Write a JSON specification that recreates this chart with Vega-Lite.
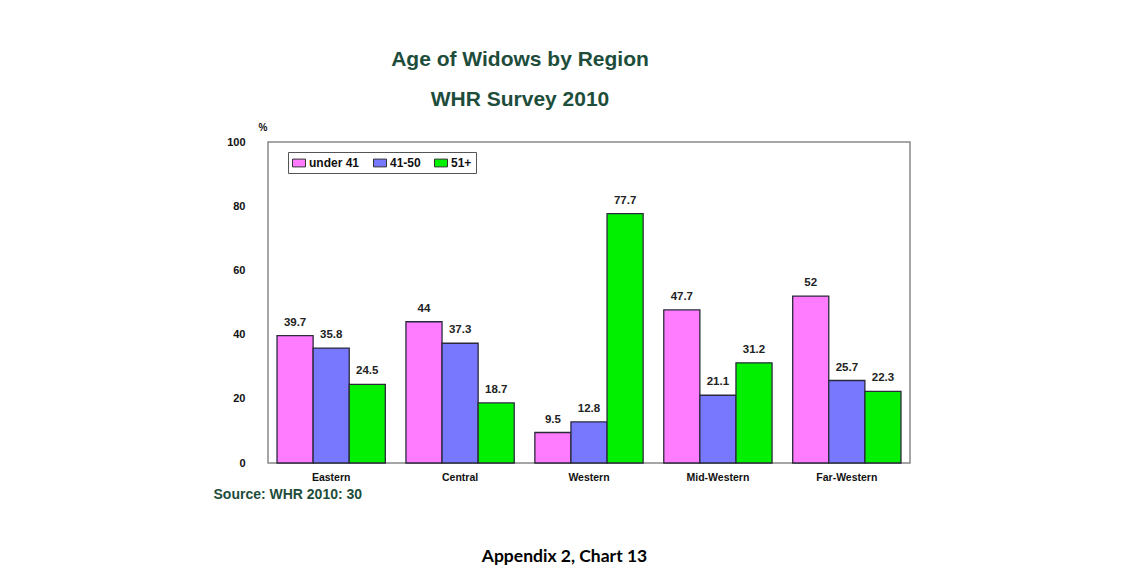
{
  "$schema": "https://vega.github.io/schema/vega-lite/v6.json",
  "autosize": {"type": "none"},
  "width": 642,
  "height": 321,
  "padding": {"left": 268, "top": 142, "right": 219, "bottom": 119},
  "background": "white",
  "title": {
    "text": "Age of Widows by Region",
    "subtitle": "WHR Survey 2010",
    "anchor": "middle",
    "frame": "group",
    "dx": -69,
    "offset": 12,
    "font": "Liberation Sans",
    "fontSize": 21,
    "fontWeight": "bold",
    "color": "#1E4D3B",
    "subtitleFont": "Liberation Sans",
    "subtitleFontSize": 21,
    "subtitleFontWeight": "bold",
    "subtitleColor": "#1E4D3B",
    "subtitlePadding": 19
  },
  "data": {
    "values": [
      {"region": "Eastern", "group": "under 41", "value": 39.7},
      {"region": "Eastern", "group": "41-50", "value": 35.8},
      {"region": "Eastern", "group": "51+", "value": 24.5},
      {"region": "Central", "group": "under 41", "value": 44},
      {"region": "Central", "group": "41-50", "value": 37.3},
      {"region": "Central", "group": "51+", "value": 18.7},
      {"region": "Western", "group": "under 41", "value": 9.5},
      {"region": "Western", "group": "41-50", "value": 12.8},
      {"region": "Western", "group": "51+", "value": 77.7},
      {"region": "Mid-Western", "group": "under 41", "value": 47.7},
      {"region": "Mid-Western", "group": "41-50", "value": 21.1},
      {"region": "Mid-Western", "group": "51+", "value": 31.2},
      {"region": "Far-Western", "group": "under 41", "value": 52},
      {"region": "Far-Western", "group": "41-50", "value": 25.7},
      {"region": "Far-Western", "group": "51+", "value": 22.3}
    ]
  },
  "resolve": {"axis": {"x": "independent"}},
  "layer": [
    {
      "mark": {"type": "bar", "stroke": "#2a2a3a", "strokeWidth": 1.3},
      "encoding": {
        "x": {
          "field": "region", "type": "nominal", "sort": null,
          "scale": {"paddingInner": 0.16, "paddingOuter": 0.07},
          "axis": {
            "title": "Source: WHR 2010: 30",
            "titleX": -55, "titleY": 31, "titleAlign": "left", "titleAnchor": null,
            "titleBaseline": "middle",
            "titleFont": "Liberation Sans", "titleFontSize": 14, "titleFontWeight": "bold",
            "titleColor": "#1E4D3B",
            "labelAngle": 0, "labelFont": "Liberation Sans", "labelFontSize": 10.5,
            "labelFontWeight": "bold", "labelColor": "#111", "labelPadding": 9,
            "ticks": false, "domain": false
          }
        },
        "xOffset": {
          "field": "group", "type": "nominal", "sort": ["under 41", "41-50", "51+"],
          "scale": {"paddingInner": 0, "paddingOuter": 0}
        },
        "y": {
          "field": "value", "type": "quantitative",
          "scale": {"domain": [0, 100], "nice": false},
          "axis": {
            "values": [0, 20, 40, 60, 80, 100],
            "title": "%", "titleAngle": 0, "titleX": -10, "titleY": -15,
            "titleAlign": "left", "titleBaseline": "middle",
            "titleFont": "Liberation Sans", "titleFontSize": 10, "titleFontWeight": "bold",
            "titleColor": "#111",
            "labelFont": "Liberation Sans", "labelFontSize": 11, "labelFontWeight": "bold",
            "labelColor": "#111", "labelPadding": 23, "ticks": false, "tickSize": 0,
            "domain": false, "grid": false
          }
        },
        "color": {
          "field": "group", "type": "nominal", "sort": ["under 41", "41-50", "51+"],
          "scale": {"domain": ["under 41", "41-50", "51+"], "range": ["#FF7BFF", "#7878FF", "#00F000"]},
          "legend": {
            "title": null, "orient": "none", "legendX": 20, "legendY": 10,
            "direction": "horizontal", "strokeColor": "#555", "padding": 4,
            "symbolType": "M-1,-0.6H1V0.6H-1Z", "symbolSize": 169,
            "symbolStrokeColor": "#333", "symbolStrokeWidth": 1,
            "labelFont": "Liberation Sans", "labelFontSize": 12, "labelFontWeight": "bold",
            "labelColor": "#111", "columnPadding": 11, "labelOffset": 3
          }
        }
      }
    },
    {
      "mark": {"type": "text", "dy": -8, "baseline": "bottom", "font": "Liberation Sans", "fontSize": 11.5, "fontWeight": "bold", "color": "#222"},
      "encoding": {
        "x": {
          "field": "region", "type": "nominal", "sort": null,
          "axis": {
            "orient": "top", "labels": false, "ticks": false, "domain": false,
            "title": "Appendix 2, Chart 13",
            "titleY": 414, "titleX": 296, "titleAlign": "center", "titleBaseline": "middle",
            "titleFont": "Lato", "titleFontSize": 17.5, "titleFontWeight": "bold", "titleColor": "#000"
          }
        },
        "xOffset": {"field": "group", "type": "nominal", "sort": ["under 41", "41-50", "51+"]},
        "y": {"field": "value", "type": "quantitative"},
        "text": {"field": "value", "type": "quantitative"}
      }
    }
  ],
  "config": {
    "view": {"stroke": "#888", "strokeWidth": 1.5}
  }
}
